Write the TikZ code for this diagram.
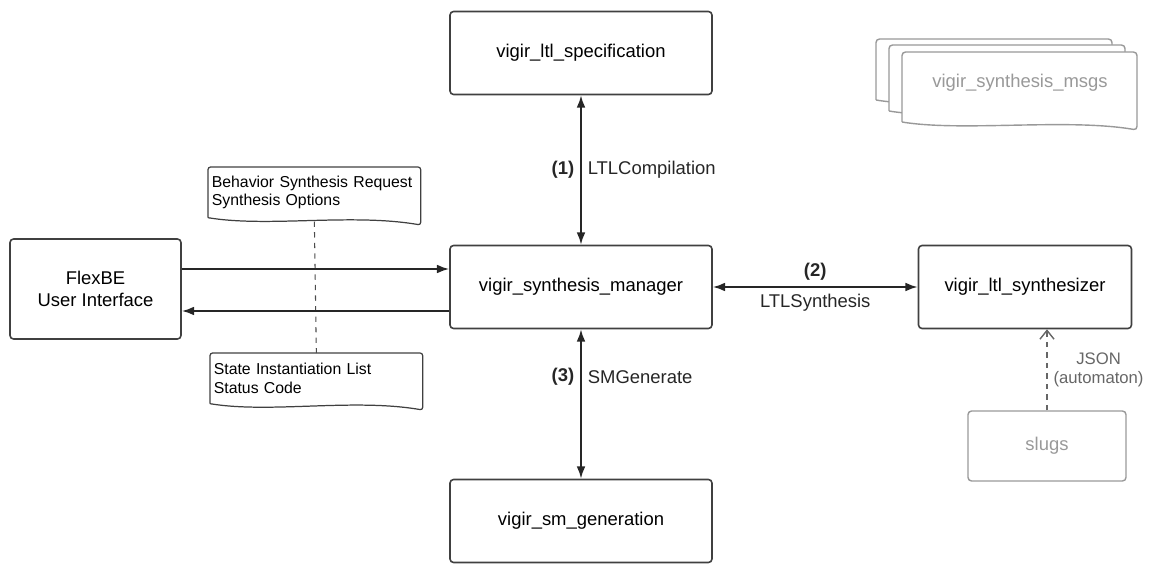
\documentclass[tikz,border=0pt]{standalone}
\usepackage{fontspec}
\setmainfont{Liberation Sans}
\usetikzlibrary{arrows.meta}

\begin{document}
\begin{tikzpicture}[
    x=0.02cm, y=-0.02cm,
    every node/.style={font=\fontsize{10.5}{12.6}\selectfont},
    box/.style={draw=black!75, line width=0.9pt, rounded corners=2pt, fill=white,
        minimum width=5.24cm, minimum height=1.66cm},
    ghostbox/.style={draw=black!40, line width=0.8pt, rounded corners=2pt,
        text=black!40, minimum width=3.16cm, minimum height=1.4cm},
    doc/.style={anchor=north west, text width=4.1cm, minimum height=1cm,
        align=left, inner sep=2pt, font=\fontsize{9}{10.5}\selectfont},
    docline/.style={draw=black!75, line width=0.7pt, rounded corners=1.5pt},
    sheet/.style={draw=black!40, line width=0.8pt, rounded corners=2pt, fill=white},
    flow/.style={line width=1.1pt, black!85, -{Latex[length=7pt,width=5pt]}},
    link/.style={line width=1.1pt, black!85,
        {Latex[length=7pt,width=5pt]}-{Latex[length=7pt,width=5pt]}},
    num/.style={font=\fontsize{10.5}{12.6}\selectfont\bfseries}]
    \useasboundingbox (0,0) rectangle (1170,564);

    \node[box] (spec) at (581,53) {vigir\_ltl\_specification};
    \node[box] (mgr) at (581,287) {vigir\_synthesis\_manager};
    \node[box] (gen) at (581,521) {vigir\_sm\_generation};
    \node[box, minimum width=3.42cm, minimum height=2cm, align=center] (ui)
        at (95.5,289) {FlexBE\\User Interface};
    \node[box, minimum width=4.26cm] (synth) at (1025,287) {vigir\_ltl\_synthesizer};
    \node[ghostbox] (slugs) at (1047,446) {slugs};

    \draw[sheet] (876,100) -- (876,39) -- (1112,39) -- (1112,108)
        .. controls (1042,96) and (936,110) .. (876,100);
    \draw[sheet] (889,111) -- (889,45) -- (1125,45) -- (1125,119)
        .. controls (1055,107) and (949,121) .. (889,111);
    \draw[sheet] (902,122) -- (902,52) -- (1137,52) -- (1137,130)
        .. controls (1067,118) and (962,132) .. (902,122);
    \node[text=black!40] (msgs) at (1020,83) {vigir\_synthesis\_msgs};

    \node[doc] (req) at (208,167) {Behavior Synthesis Request\\Synthesis Options};
    \node[doc] (stat) at (210,353) {State Instantiation List\\Status Code};
    \draw[docline] (req.south west) -- (req.north west) -- (req.north east) -- ++(0,58)
        .. controls +(-70,-12) and +(60,10) .. (req.south west);
    \draw[docline] (stat.south west) -- (stat.north west) -- (stat.north east) -- ++(0,57)
        .. controls +(-70,-12) and +(60,10) .. (stat.south west);
    \draw[dashed, black!70, line width=0.6pt] ([yshift=-0.08cm]req.south) -- (stat.north);

    \coordinate (uiT) at ([yshift=0.4cm]ui.east);
    \coordinate (uiB) at ([yshift=-0.44cm]ui.east);
    \draw[flow] (uiT) -- (uiT -| mgr.west);
    \draw[flow] (uiB -| mgr.west) -- (uiB);

    \draw[link] (spec) -- (mgr)
        node[midway, left, num] {(1)} node[midway, right] {LTLCompilation};
    \draw[link] (mgr) -- (gen)
        node[pos=.32, left, num] {(3)} node[pos=.32, right] {SMGenerate};
    \draw[link] (mgr) -- (synth)
        node[midway, above, num] {(2)} node[midway, below] {LTLSynthesis};

    \draw[dashed, black!60, line width=0.8pt, -{Straight Barb[length=5pt,width=8pt]}]
        (slugs) -- (slugs |- synth.south)
        node[midway, right, align=center, font=\fontsize{9.5}{11}\selectfont]
        {JSON\\(automaton)};
\end{tikzpicture}
\end{document}
